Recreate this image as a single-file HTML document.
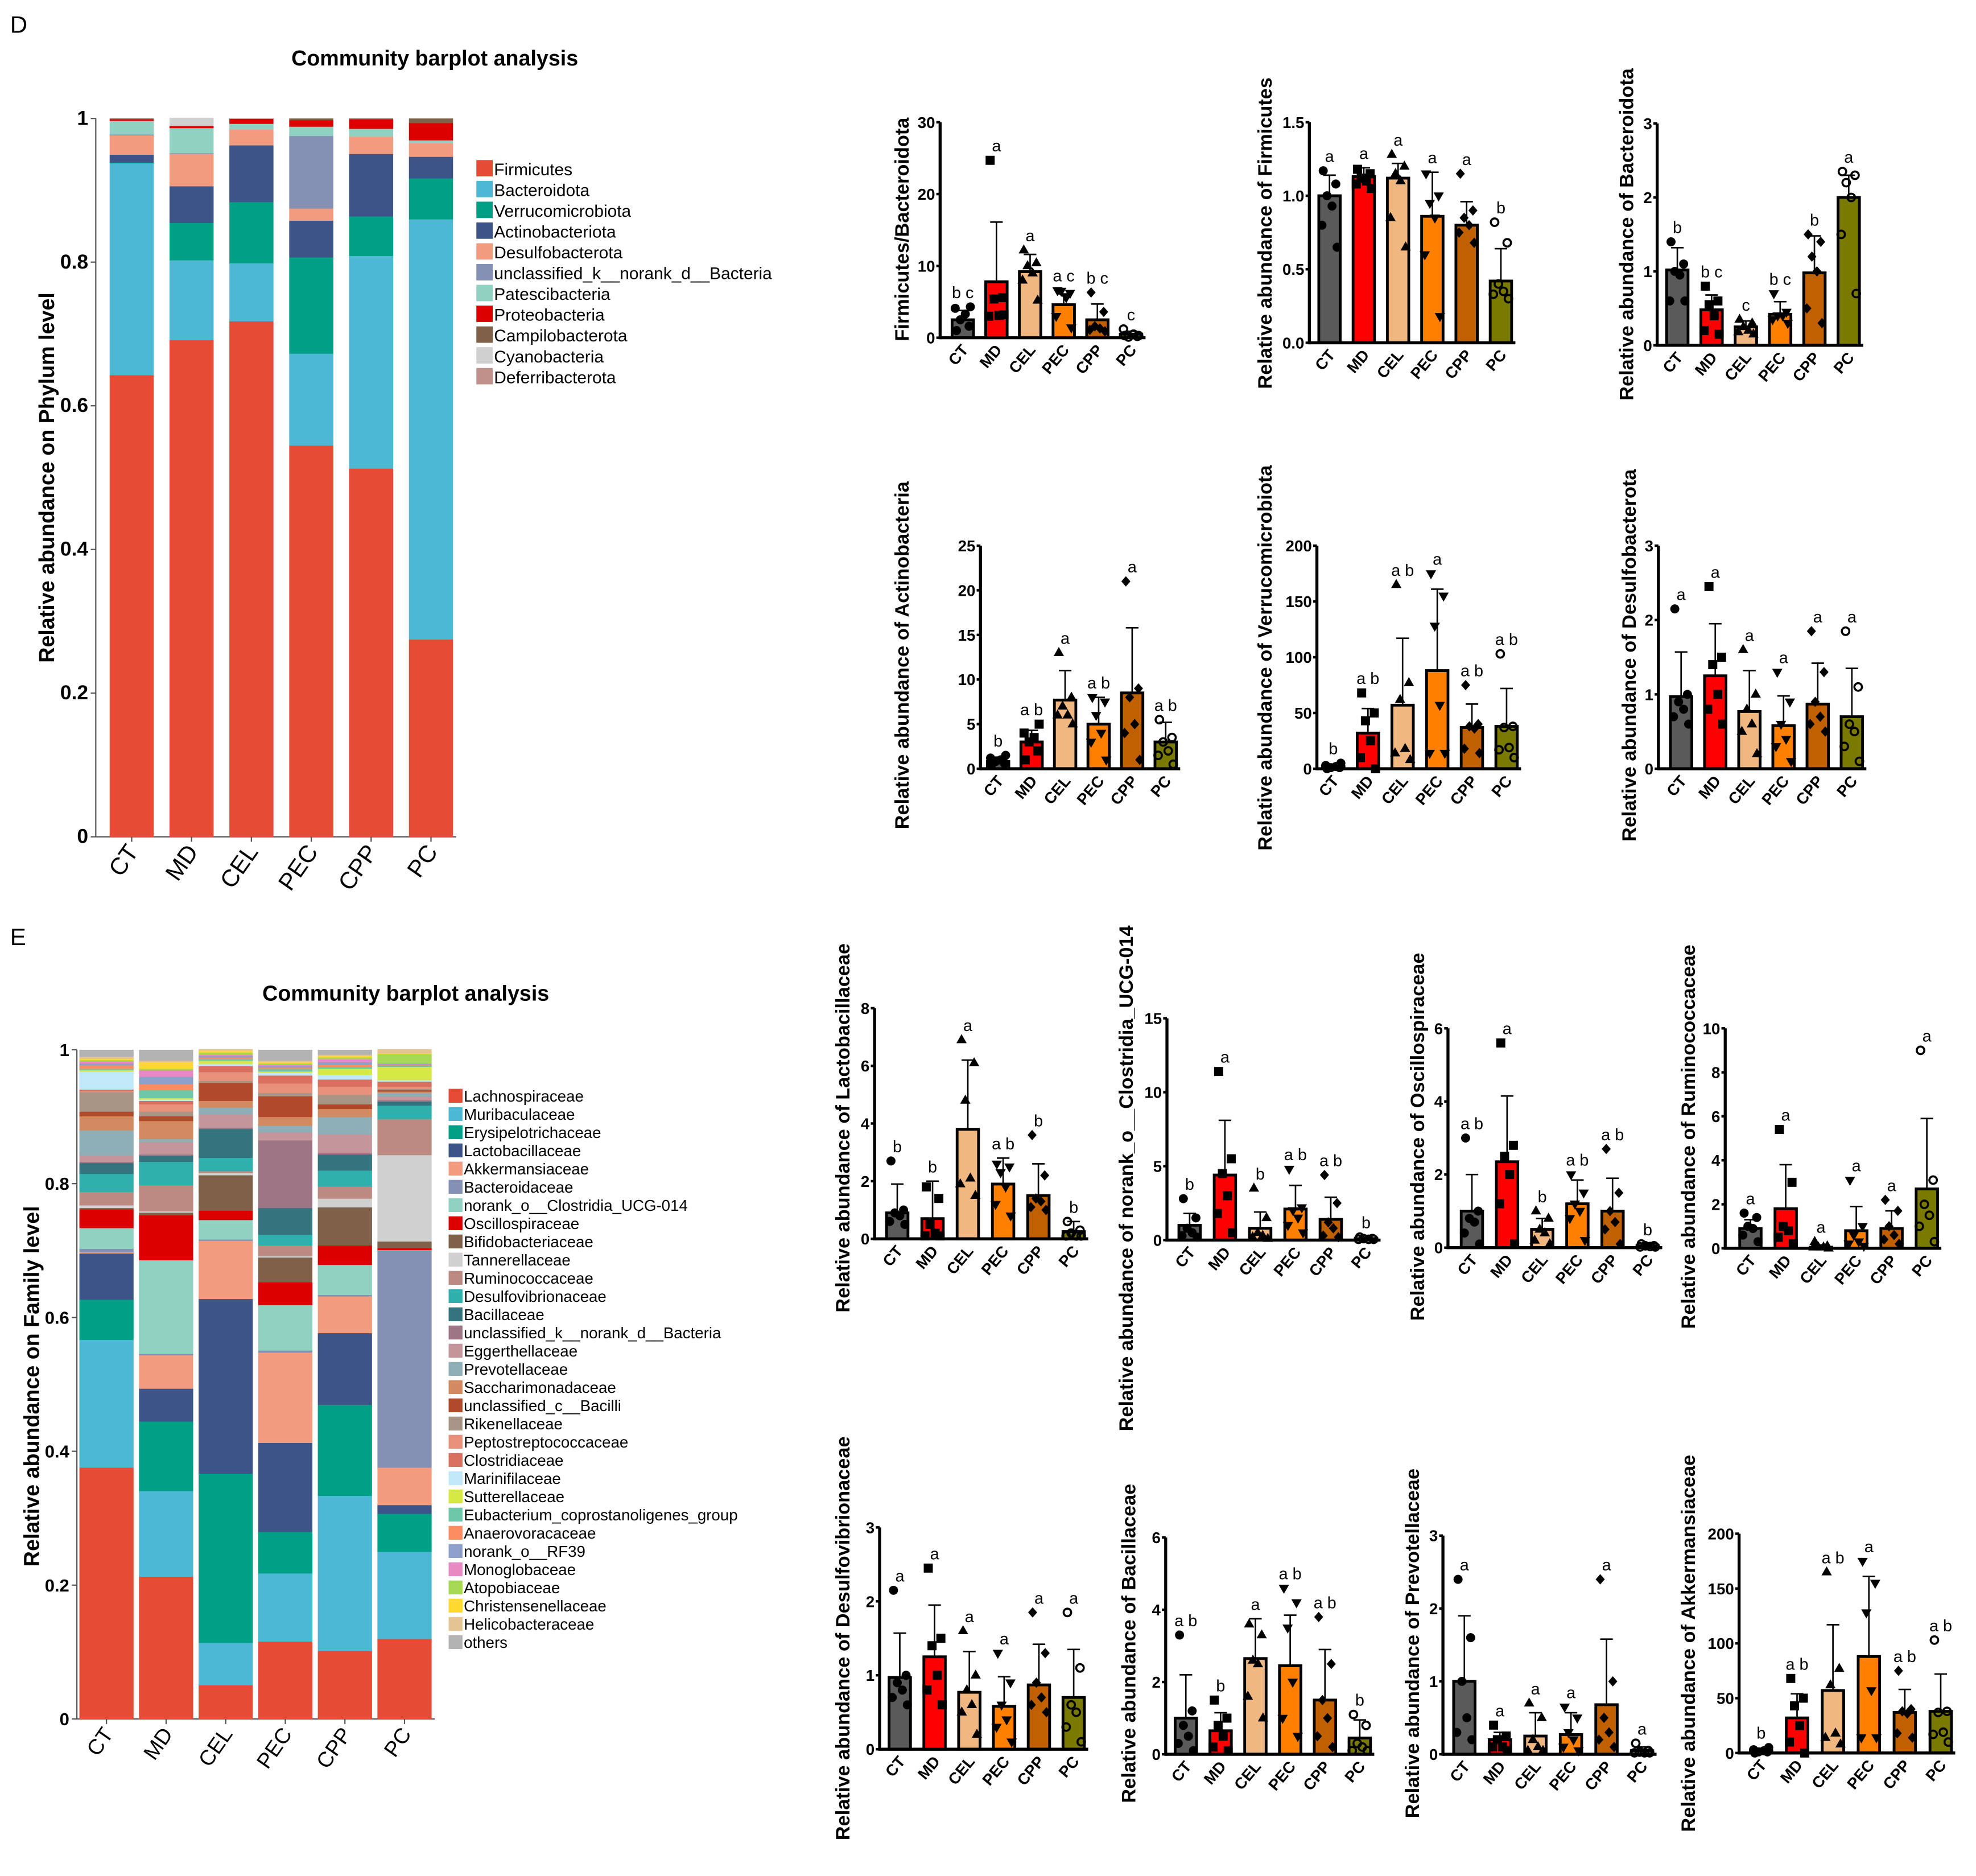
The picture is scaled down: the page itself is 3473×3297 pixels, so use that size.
<!DOCTYPE html>
<html><head><meta charset="utf-8"><style>
html,body{margin:0;padding:0;background:#fff;}
svg{display:block;font-family:"Liberation Sans",Arial,sans-serif;}
</style></head><body>
<svg id="fig" width="3473" height="3297" viewBox="0 0 1568 1488.6" preserveAspectRatio="none" xmlns="http://www.w3.org/2000/svg"></svg>
<script>
const groups=["CT","MD","CEL","PEC","CPP","PC"];
// Phylum
const phylumNames=["Firmicutes","Bacteroidota","Verrucomicrobiota","Actinobacteriota","Desulfobacterota","unclassified_k__norank_d__Bacteria","Patescibacteria","Proteobacteria","Campilobacterota","Cyanobacteria","Deferribacterota"];
const phylumColors=["#e64b35","#4db8d3","#00a087","#3c5488","#f39b7f","#8491b4","#91d1c2","#dc0000","#7e6148","#d0d0d0","#c0908a"];
const phyCT=[.643,.295,.001,.011,.027,.001,.019,.002,.001,.0,.0];
const phyMD=[.692,.111,.052,.051,.045,.001,.035,.003,.0,.011,.0];
const phyCEL=[.718,.081,.085,.079,.022,.0,.008,.007,.0,.0,.0];
const phyPEC=[.545,.128,.134,.051,.017,.101,.013,.009,.002,.0,.0];
const phyCPP=[.513,.296,.055,.087,.024,.0,.011,.013,.001,.0,.0];
const phyPC=[.275,.585,.057,.030,.019,.0,.004,.024,.006,.0,.0];
const phylumData=[phyCT,phyMD,phyCEL,phyPEC,phyCPP,phyPC];
// Family
const familyNames=["Lachnospiraceae","Muribaculaceae","Erysipelotrichaceae","Lactobacillaceae","Akkermansiaceae","Bacteroidaceae","norank_o__Clostridia_UCG-014","Oscillospiraceae","Bifidobacteriaceae","Tannerellaceae","Ruminococcaceae","Desulfovibrionaceae","Bacillaceae","unclassified_k__norank_d__Bacteria","Eggerthellaceae","Prevotellaceae","Saccharimonadaceae","unclassified_c__Bacilli","Rikenellaceae","Peptostreptococcaceae","Clostridiaceae","Marinifilaceae","Sutterellaceae","Eubacterium_coprostanoligenes_group","Anaerovoracaceae","norank_o__RF39","Monoglobaceae","Atopobiaceae","Christensenellaceae","Helicobacteraceae","others"];
const familyColors=["#e64b35","#4db8d3","#00a087","#3c5488","#f39b7f","#8491b4","#91d1c2","#dc0000","#7e6148","#d0d0d0","#bc8a80","#2fb0ac","#35737f","#9e7585","#c4959a","#8eaeb8","#d48a60","#b04a2a","#a89585","#e8907a","#d9705f","#c0e8f8","#d6e844","#6cc8a8","#fc8d62","#8da0cb","#e78ac3","#a6d854","#ffd92f","#e5c494","#b3b3b3"];
const famCT=[.376,.191,.06,.069,.002,.005,.031,.028,.002,.004,.02,.027,.016,.002,.009,.038,.021,.007,.029,.002,.002,.027,.002,.002,.005,.003,.003,.002,.002,.003];
const famMD=[.213,.128,.104,.049,.05,.002,.14,.067,.004,.002,.039,.035,.009,.002,.018,.005,.027,.007,.007,.011,.005,.002,.002,.012,.009,.011,.01,.002,.01,.002];
const famCEL=[.051,.063,.253,.261,.087,.002,.029,.014,.053,.003,.003,.02,.043,.002,.02,.01,.01,.027,.003,.013,.009,.003,.005,.003,.002,.002,.002,.003,.003,.002];
const famPEC=[.116,.102,.062,.133,.135,.003,.068,.034,.037,.002,.016,.016,.04,.101,.012,.01,.013,.031,.005,.014,.012,.004,.002,.004,.002,.002,.002,.002,.002,.002];
const famCPP=[.102,.232,.136,.107,.055,.002,.045,.029,.057,.013,.018,.024,.024,.002,.028,.026,.012,.007,.014,.012,.011,.007,.009,.003,.003,.004,.004,.003,.002,.002];
const famPC=[.12,.13,.057,.013,.056,.324,.001,.003,.01,.129,.054,.02,.006,.002,.006,.005,.002,.002,.002,.003,.008,.002,.02,.002,.001,.001,.001,.014,.001,.006];
const familyData=[famCT,famMD,famCEL,famPEC,famCPP,famPC];

// small bar charts
const fbMean=[2.5,7.8,9.2,4.6,2.5,0.5], fbSd=[1.3,8.3,2.4,1.5,2.2,0.4], fbLet=["b c","a","a","a c","b c","c"];
const fbPts=[[1,1.6,2.5,3.3,4.1,4.3],[24.7,5.6,5.4,3.1,3,3.2],[12.2,10.4,10,9,8,5.2],[6.6,6.2,6.5,5.6,3,1.4],[6.3,3.6,1.6,1.3,1.1,0.9],[0.3,0.2,0.1,0.5,1.2,0.3]];
const fiMean=[1.0,1.13,1.12,0.86,0.8,0.42], fiSd=[0.14,0.06,0.1,0.3,0.16,0.22], fiLet=["a","a","a","a","a","b"];
const fiPts=[[1.17,1.08,1.0,0.93,0.8,0.65],[1.18,1.15,1.12,1.1,1.08,1.05],[1.28,1.2,1.15,1.1,0.85,0.65],[1.15,1.0,0.95,0.85,0.6,0.18],[1.15,0.9,0.85,0.8,0.75,0.68],[0.82,0.68,0.4,0.35,0.33,0.3]];
const baMean=[1.02,0.48,0.25,0.42,0.98,2.0], baSd=[0.3,0.2,0.08,0.17,0.5,0.3], baLet=["b","b c","c","b c","b","a"];
const baPts=[[1.4,1.1,1.0,0.95,0.6,0.6],[0.8,0.6,0.55,0.4,0.2,0.15],[0.35,0.3,0.25,0.2,0.18,0.15],[0.7,0.45,0.4,0.4,0.35,0.3],[1.5,1.4,1.2,1.0,0.5,0.3],[2.35,2.3,2.2,2.0,1.5,0.7]];
const acMean=[0.8,3,7.7,5,8.5,3], acSd=[0.5,1.3,3.3,3,7.3,2.2], acLet=["b","a b","a","a b","a","a b"];
const acPts=[[0.5,0.6,0.8,1,1.2,1.5],[1,2,3,3.5,4,5],[13,8,7,6,6,5],[8,7.5,6,4,3,1],[21,9,8,5,4,1],[5.5,3.5,3,2,1.5,0.5]];
const veMean=[2,32,57,88,37,38], veSd=[2,22,60,73,21,34], veLet=["b","a b","a b","a","a b","a b"];
const vePts=[[0,1,1,2,3,5],[68,50,43,25,10,0],[165,77,62,18,14,8],[175,155,128,57,14,14],[75,40,38,36,18,14],[103,38,37,19,17,10]];
const deMean=[0.97,1.25,0.77,0.58,0.87,0.7], deSd=[0.6,0.7,0.55,0.4,0.55,0.65], deLet=["a","a","a","a","a","a"];
const dePts=[[2.15,1.0,0.9,0.8,0.7,0.6],[2.45,1.5,1.4,1.0,0.8,0.6],[1.6,1.0,0.8,0.6,0.5,0.2],[1.3,0.9,0.6,0.4,0.3,0.1],[1.85,1.3,0.9,0.7,0.6,0.5],[1.85,1.1,0.6,0.5,0.3,0.1]];
const laMean=[0.9,0.7,3.8,1.9,1.5,0.25], laSd=[1,1.3,2.4,0.9,1.1,0.35], laLet=["b","b","a","a b","b","b"];
const laPts=[[2.7,1,0.9,0.8,0.6,0.5],[1.8,1.4,0.5,0.2,0.1,0.1],[6.9,6.1,4.8,2.1,1.9,1.5],[2.6,2.5,2.3,1.8,1.2,0.8],[3.6,2.2,1.4,1.3,1.1,1.0],[0.6,0.3,0.2,0.1,0.1,0.1]];
const noMean=[1,4.4,0.8,2.1,1.4,0.1], noSd=[0.8,3.7,1.1,1.6,1.5,0.1], noLet=["b","a","b","a b","a b","b"];
const noPts=[[2.8,1.5,0.8,0.5,0.3,0.2],[11.4,5.5,4.5,3,1.8,0.5],[3.5,1.5,0.5,0.3,0.2,0.1],[4.8,2.2,2,1.5,1,0.5],[4.4,2.5,1.2,0.8,0.3,0.2],[0.2,0.1,0.1,0.05,0.05,0.05]];
const osMean=[1,2.35,0.5,1.2,1,0.05], osSd=[1,1.8,0.3,0.65,0.9,0.05], osLet=["a b","a","b","a b","a b","b"];
const osPts=[[3.0,1,0.8,0.7,0.4,0.1],[5.6,2.8,2.5,2,1.2,0.1],[1.0,0.8,0.5,0.4,0.2,0.1],[2,1.5,1.2,1,0.8,0.2],[2.7,1.5,1,0.7,0.5,0.1],[0.1,0.05,0.05,0.03,0.02,0.02]];
const ruMean=[0.9,1.8,0.05,0.8,0.9,2.7], ruSd=[0.4,2,0.1,1.1,0.8,3.2], ruLet=["a","a","a","a","a","a"];
const ruPts=[[1.6,1.4,1.0,0.9,0.6,0.3],[5.4,3,1,0.8,0.5,0.2],[0.3,0.1,0.05,0.05,0.05,0],[3.1,1,0.6,0.3,0.2,0.1],[2.2,1.7,1.0,0.6,0.4,0.2],[9,3.1,2,1.5,1,0.3]];
const bcMean=[1,0.65,2.65,2.45,1.5,0.45], bcSd=[1.2,0.5,1.1,1.4,1.4,0.5], bcLet=["a b","b","a","a b","a b","b"];
const bcPts=[[3.3,1.2,0.8,0.5,0.3,0.1],[1.5,1,0.8,0.5,0.2,0.1],[3.6,3.3,2.6,2.5,1.6,1.0],[4.6,4.2,3.5,2,1,0.5],[3.8,2.5,1.5,1,0.5,0.2],[1.1,0.8,0.3,0.2,0.1,0.1]];
const prMean=[1.0,0.2,0.25,0.27,0.68,0.05], prSd=[0.9,0.1,0.32,0.3,0.9,0.05], prLet=["a","a","a","a","a","a"];
const prPts=[[2.4,1.6,1,0.5,0.3,0.2],[0.4,0.25,0.2,0.1,0.1,0.05],[0.7,0.5,0.2,0.1,0.05,0.05],[0.65,0.5,0.3,0.2,0.1,0.05],[2.4,1.0,0.5,0.3,0.2,0.1],[0.15,0.05,0.03,0.02,0.02,0.02]];

const barColors=["#5a5a5a","#ff0000","#f0b880","#ff8000","#c06000","#7a7a00"];
const NS="http://www.w3.org/2000/svg";
const svg=document.getElementById("fig");
function mk(tag,attrs,parent,text){const e=document.createElementNS(NS,tag);for(const k in attrs)e.setAttribute(k,attrs[k]);if(text!==undefined)e.textContent=text;(parent||svg).appendChild(e);return e;}

let t;
t=mk("text",{x:8,y:26,"font-size":19},svg,"D");


t=mk("text",{x:8,y:750,"font-size":19},svg,"E");



function stacked(cfg){
  const g=mk("g",{});
  
  
  const yS=v=>cfg.y0-(cfg.y0-cfg.y1)*v;
  let tt=mk("text",{x:cfg.titleX,y:cfg.titleY,"font-size":17,"font-weight":"bold","text-anchor":"middle"},g,"Community barplot analysis");
  
  
  mk("line",{x1:cfg.axX,y1:cfg.y1,x2:cfg.axX,y2:cfg.y0,stroke:"#555","stroke-width":1},g);
  mk("line",{x1:cfg.axX,y1:cfg.y0,x2:cfg.xEnd,y2:cfg.y0,stroke:"#555","stroke-width":1},g);
  ["0","0.2","0.4","0.6","0.8","1"].forEach((lab,i)=>{
    const y=yS(i*0.2);
    mk("line",{x1:cfg.axX-4,y1:y,x2:cfg.axX,y2:y,stroke:"#555"},g);
    const tk=mk("text",{x:cfg.axX-6,y:y+5,"font-size":cfg.tickFs,"font-weight":"bold","text-anchor":"end"},g,lab);
    
    
  });
  const yt=mk("text",{transform:`translate(${cfg.ytX},${cfg.ytY}) rotate(-90)`,"font-size":17,"font-weight":"bold","text-anchor":"middle"},g,cfg.ytitle);
  
  
  cfg.data.forEach((vals,gi)=>{
    const x=cfg.bx0+gi*cfg.bstep;
    let cum=0;
    const full=vals.slice();
    const s=full.reduce((a,b)=>a+b,0);
    full.push(Math.max(0,1-s));
    full.forEach((v,si)=>{
      if(v<=0)return;
      const ya=yS(cum),yb=yS(cum+v);
      const col=si<cfg.colors.length?cfg.colors[si]:"#c8c8c8";
      const r=mk("rect",{x:x,y:yb,width:cfg.bw,height:Math.max(0,ya-yb)+0.3,fill:col},g);
      
      
      cum+=v;
    });
    mk("line",{x1:x+cfg.bw/2,y1:cfg.y0,x2:x+cfg.bw/2,y2:cfg.y0+4,stroke:"#555"},g);
    const xl=mk("text",{transform:`translate(${x+cfg.bw/2+6},${cfg.y0+12}) rotate(-55)`,"font-size":cfg.xFs,"text-anchor":"end"},g,groups[gi]);
    
    
  });
  const lg=mk("g",{},g);
  
  
  cfg.legNames.forEach((n,i)=>{
    const y=cfg.ly+i*cfg.lstep;
    mk("rect",{x:cfg.lx,y:y-cfg.lsq+2,width:cfg.lsq,height:cfg.lsq,fill:cfg.colors[i]},lg);
    const lt=mk("text",{x:cfg.lx+cfg.lsq+1,y:y+1,"font-size":cfg.lfs},lg,n);
    
    
  });
}
stacked({name:"phylum-stacked-chart",data:phylumData,colors:phylumColors,legNames:phylumNames,y0:664,y1:94,axX:76,xEnd:362,bx0:87,bstep:47.5,bw:35,titleX:345,titleY:52,ytX:43,ytY:379,ytitle:"Relative abundance on Phylum level",tickFs:16,xFs:19,lx:378,ly:138,lstep:16.5,lsq:13,lfs:13.5});
stacked({name:"family-stacked-chart",data:familyData,colors:familyColors,legNames:familyNames,y0:1364,y1:833,axX:61,xEnd:345,bx0:63,bstep:47.3,bw:43,titleX:322,titleY:794,ytX:31,ytY:1100,ytitle:"Relative abundance on Family level",tickFs:14,xFs:17,lx:356,ly:873,lstep:14.45,lsq:11,lfs:12.5});

function marker(gi,x,y,g){
  const s=3.6;let e;
  if(gi===0)e=mk("circle",{cx:x,cy:y,r:s,fill:"#000"},g);
  else if(gi===1)e=mk("rect",{x:x-s,y:y-s,width:2*s,height:2*s,fill:"#000"},g);
  else if(gi===2)e=mk("polygon",{points:`${x},${y-s-1} ${x-s-0.5},${y+s-1} ${x+s+0.5},${y+s-1}`,fill:"#000"},g);
  else if(gi===3)e=mk("polygon",{points:`${x},${y+s+1} ${x-s-0.5},${y-s+1} ${x+s+0.5},${y-s+1}`,fill:"#000"},g);
  else if(gi===4)e=mk("polygon",{points:`${x},${y-s-0.5} ${x+s},${y} ${x},${y+s+0.5} ${x-s},${y}`,fill:"#000"},g);
  else e=mk("circle",{cx:x,cy:y,r:s-0.6,fill:"none",stroke:"#000","stroke-width":1.6},g);
  
  
}
const jit=[-5,5,-2,2,-6,6];
function barChart(c){
  const g=mk("g",{});
  
  
  const yS=v=>c.ybot-(c.ybot-c.ytop)*v/c.max;
  const bw=c.bw||17;
  const cx0=c.cx0, step=c.step;
  c.mean.forEach((m,i)=>{
    const cx=cx0+step*i;
    const r=mk("rect",{x:cx-bw/2,y:yS(m),width:bw,height:c.ybot-yS(m),fill:barColors[i],stroke:"#000","stroke-width":2.2},g);
    
    
    const top=yS(m+c.sd[i]);
    const eb=mk("path",{d:`M${cx},${yS(m)} V${top} M${cx-5},${top} H${cx+5}`,stroke:"#000","stroke-width":1.2,fill:"none"},g);
    
    
    c.pts[i].forEach((p,k)=>marker(i,cx+jit[k],yS(p),g));
    const hi=Math.max(m+c.sd[i],...c.pts[i]);
    const lt=mk("text",{x:cx,y:yS(hi)-7,"font-size":13,"text-anchor":"middle"},g,c.let[i]);
    
    
    const xl=mk("text",{transform:`translate(${cx+5},${c.ybot+10}) rotate(-50)`,"font-size":12.5,"font-weight":"bold","text-anchor":"end"},g,groups[i]);
    
    
  });
  const xr=cx0+step*5+bw/2+3;
  mk("line",{x1:c.ax,y1:c.ytop,x2:c.ax,y2:c.ybot+1.2,stroke:"#000","stroke-width":2.4},g);
  mk("line",{x1:c.ax,y1:c.ybot,x2:xr,y2:c.ybot,stroke:"#000","stroke-width":2.4},g);
  c.ticks.forEach((tv,i)=>{
    const y=yS(tv);
    mk("line",{x1:c.ax-3,y1:y,x2:c.ax,y2:y,stroke:"#000","stroke-width":2},g);
    const tk=mk("text",{x:c.ax-4,y:y+4.5,"font-size":12.5,"font-weight":"bold","text-anchor":"end"},g,c.tickLabels[i]);
    
    
  });
  const yt=mk("text",{transform:`translate(${c.tx},${c.ty}) rotate(-90)`,"font-size":15.5,"font-weight":"bold","text-anchor":"middle"},g,c.title);
  
  
}
const t30=[0,10,20,30],t15=[0,0.5,1,1.5],t3=[0,1,2,3],t25=[0,5,10,15,20,25],t200=[0,50,100,150,200],t8=[0,2,4,6,8],t15b=[0,5,10,15],t6=[0,2,4,6],t10=[0,2,4,6,8,10];
const L=a=>a.map(String);
barChart({name:"chart-firmicutes-bacteroidota",mean:fbMean,sd:fbSd,let:fbLet,pts:fbPts,max:30,ticks:t30,tickLabels:L(t30),ax:746,ytop:97,ybot:268,cx0:764,step:26.7,title:"Firmicutes/Bacteroidota",tx:721,ty:182});
barChart({name:"chart-firmicutes",mean:fiMean,sd:fiSd,let:fiLet,pts:fiPts,max:1.5,ticks:t15,tickLabels:["0.0","0.5","1.0","1.5"],ax:1039,ytop:97,ybot:272,cx0:1055,step:27.2,title:"Relative abundance of Firmicutes",tx:1009,ty:185});
barChart({name:"chart-bacteroidota",mean:baMean,sd:baSd,let:baLet,pts:baPts,max:3,ticks:t3,tickLabels:L(t3),ax:1315,ytop:98,ybot:274,cx0:1331,step:27.2,title:"Relative abundance of Bacteroidota",tx:1296,ty:186});
barChart({name:"chart-actinobacteria",mean:acMean,sd:acSd,let:acLet,pts:acPts,max:25,ticks:t25,tickLabels:L(t25),ax:778,ytop:433,ybot:610,cx0:792,step:26.6,title:"Relative abundance of Actinobacteria",tx:721,ty:520});
barChart({name:"chart-verrucomicrobiota",mean:veMean,sd:veSd,let:veLet,pts:vePts,max:200,ticks:t200,tickLabels:L(t200),ax:1045,ytop:433,ybot:610,cx0:1058,step:27.5,title:"Relative abundance of Verrucomicrobiota",tx:1009,ty:522});
barChart({name:"chart-desulfobacterota",mean:deMean,sd:deSd,let:deLet,pts:dePts,max:3,ticks:t3,tickLabels:L(t3),ax:1316,ytop:433,ybot:610,cx0:1334,step:27.1,title:"Relative abundance of Desulfobacterota",tx:1298,ty:520});
barChart({name:"chart-lactobacillaceae",mean:laMean,sd:laSd,let:laLet,pts:laPts,max:8,ticks:t8,tickLabels:L(t8),ax:694,ytop:800,ybot:983,cx0:712,step:28,title:"Relative abundance of Lactobacillaceae",tx:674,ty:895});
barChart({name:"chart-norank-clostridia",mean:noMean,sd:noSd,let:noLet,pts:noPts,max:15,ticks:t15b,tickLabels:L(t15b),ax:926,ytop:808,ybot:984,cx0:944,step:28,title:"Relative abundance of norank_o__Clostridia_UCG-014",tx:899,ty:935});
barChart({name:"chart-oscillospiraceae",mean:osMean,sd:osSd,let:osLet,pts:osPts,max:6,ticks:t6,tickLabels:L(t6),ax:1149,ytop:816,ybot:990,cx0:1168,step:27.9,title:"Relative abundance of Oscillospiraceae",tx:1130,ty:902});
barChart({name:"chart-ruminococcaceae",mean:ruMean,sd:ruSd,let:ruLet,pts:ruPts,max:10,ticks:t10,tickLabels:L(t10),ax:1369,ytop:816,ybot:990.5,cx0:1389,step:28,title:"Relative abundance of Ruminococcaceae",tx:1345,ty:902});
barChart({name:"chart-desulfovibrionaceae",mean:deMean,sd:deSd,let:deLet,pts:dePts,max:3,ticks:t3,tickLabels:L(t3),ax:698,ytop:1212,ybot:1388,cx0:714,step:27.6,title:"Relative abundance of Desulfovibrionaceae",tx:674,ty:1300});
barChart({name:"chart-bacillaceae",mean:bcMean,sd:bcSd,let:bcLet,pts:bcPts,max:6,ticks:t6,tickLabels:L(t6),ax:925,ytop:1220,ybot:1392,cx0:941,step:27.6,title:"Relative abundance of Bacillaceae",tx:901,ty:1304});
barChart({name:"chart-prevotellaceae",mean:prMean,sd:prSd,let:prLet,pts:prPts,max:3,ticks:t3,tickLabels:L(t3),ax:1145,ytop:1218.5,ybot:1392,cx0:1162,step:28.2,title:"Relative abundance of Prevotellaceae",tx:1126,ty:1304});
barChart({name:"chart-akkermansiaceae",mean:veMean,sd:veSd,let:veLet,pts:vePts,max:200,ticks:t200,tickLabels:L(t200),ax:1380,ytop:1217,ybot:1391,cx0:1397.5,step:28.5,title:"Relative abundance of Akkermansiaceae",tx:1345,ty:1304});
</script>
</body></html>
